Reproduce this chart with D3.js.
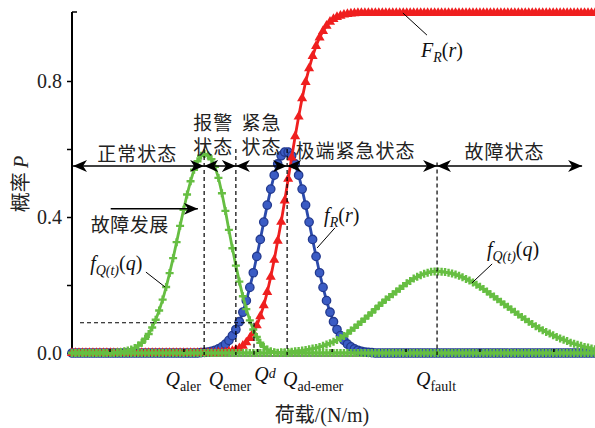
<!DOCTYPE html>
<html><head><meta charset="utf-8">
<script src="https://cdn.jsdelivr.net/npm/d3@7/dist/d3.min.js"></script>
<style>
html,body{margin:0;padding:0;background:#fff;}
svg{display:block;}
</style></head><body>
<svg id="c" width="595" height="428"></svg>
<script>
// ---------------- data ----------------
const load = [
0,1,2,3,4,5,6,7,8,9,
10,11,12,13,14,15,16,17,18,19,
20,21,22,23,24,25,26,27,28,29,
30,31,32,33,34,35,36,37,38,39,
40,41,42,43,44,45,46,47,48,49,
50,51,52,53,54,55,56,57,58,59,
60,61,62,63,64,65,66,67,68,69,
70,71,72,73,74,75,76,77,78,79,
80,81,82,83,84,85,86,87,88,89,
90,91,92,93,94,95,96,97,98,99,
100,101,102,103,104,105,106,107,108,109,
110,111,112,113,114,115,116,117,118,119,
120,121,122,123,124,125,126,127,128,129,
130,131,132,133,134,135,136,137,138,139,
140,141,142,143,144,145,146,147,148,149,
150];

// f_Q(t)(q) at the early (alert) stage
const fQ1 = [
0,0,0,0,0,0,0,0,0,0,
0,0,0.001,0.002,0.003,0.005,0.007,0.010,0.015,0.022,
0.030,0.042,0.056,0.075,0.098,0.125,0.157,0.194,0.235,0.279,
0.326,0.374,0.421,0.466,0.505,0.539,0.564,0.580,0.585,0.581,
0.570,0.548,0.515,0.470,0.418,0.362,0.308,0.257,0.210,0.167,
0.129,0.096,0.069,0.047,0.030,0.018,0.010,0.005,0.002,0,
0,0,0,0,0,0,0,0,0,0,
0,0,0,0,0,0,0,0,0,0,
0,0,0,0,0,0,0,0,0,0,
0,0,0,0,0,0,0,0,0,0,
0,0,0,0,0,0,0,0,0,0,
0,0,0,0,0,0,0,0,0,0,
0,0,0,0,0,0,0,0,0,0,
0,0,0,0,0,0,0,0,0,0,
0,0,0,0,0,0,0,0,0,0,
0];

// f_R(r)
const fR = [
0,0,0,0,0,0,0,0,0,0,
0,0,0,0,0,0,0,0,0,0,
0,0,0,0,0,0,0,0,0,0,
0,0,0,0,0,0,0,0.001,0.002,0.003,
0.005,0.008,0.012,0.018,0.026,0.037,0.051,0.069,0.092,0.120,
0.154,0.193,0.236,0.284,0.334,0.385,0.435,0.482,0.523,0.556,
0.580,0.591,0.591,0.580,0.556,0.523,0.482,0.435,0.385,0.334,
0.284,0.236,0.193,0.154,0.120,0.092,0.069,0.051,0.037,0.026,
0.018,0.012,0.008,0.005,0.003,0.002,0.001,0,0,0,
0,0,0,0,0,0,0,0,0,0,
0,0,0,0,0,0,0,0,0,0,
0,0,0,0,0,0,0,0,0,0,
0,0,0,0,0,0,0,0,0,0,
0,0,0,0,0,0,0,0,0,0,
0,0,0,0,0,0,0,0,0,0,
0];

// F_R(r)
const FR = [
0,0,0,0,0,0,0,0,0,0,
0,0,0,0,0,0,0,0,0,0,
0,0,0,0,0,0,0,0,0,0,
0,0,0,0,0,0,0,0,0,0,
0,0,0.001,0.001,0.002,0.004,0.006,0.009,0.014,0.021,
0.031,0.044,0.059,0.081,0.108,0.140,0.179,0.224,0.274,0.330,
0.386,0.448,0.512,0.575,0.637,0.695,0.749,0.797,0.837,0.873,
0.903,0.928,0.947,0.962,0.974,0.982,0.988,0.992,0.995,0.997,
0.998,0.999,1,1,1,1,1,1,1,1,
1,1,1,1,1,1,1,1,1,1,
1,1,1,1,1,1,1,1,1,1,
1,1,1,1,1,1,1,1,1,1,
1,1,1,1,1,1,1,1,1,1,
1,1,1,1,1,1,1,1,1,1,
1,1,1,1,1,1,1,1,1,1,
1];

// f_Q(t)(q) at the fault stage
const fQ2 = [
0,0,0,0,0,0,0,0,0,0,
0,0,0,0,0,0,0,0,0,0,
0,0,0,0,0,0,0,0,0,0,
0,0,0,0,0,0,0,0,0,0,
0,0,0,0,0,0,0,0,0,0,
0,0,0,0,0,0,0,0.001,0.001,0.001,
0.002,0.002,0.003,0.004,0.005,0.006,0.007,0.009,0.011,0.013,
0.015,0.018,0.021,0.025,0.029,0.033,0.038,0.044,0.050,0.057,
0.066,0.074,0.083,0.092,0.101,0.110,0.119,0.129,0.139,0.148,
0.157,0.165,0.173,0.181,0.189,0.197,0.205,0.212,0.219,0.224,
0.229,0.233,0.236,0.239,0.240,0.240,0.239,0.238,0.236,0.234,
0.231,0.227,0.223,0.218,0.213,0.207,0.201,0.195,0.188,0.181,
0.173,0.166,0.158,0.151,0.143,0.136,0.128,0.121,0.113,0.106,
0.099,0.092,0.085,0.079,0.073,0.067,0.062,0.057,0.052,0.047,
0.043,0.039,0.035,0.030,0.027,0.024,0.021,0.018,0.016,0.013,
0.011];

const yTickValues = [0, 0.2, 0.4, 0.6, 0.8];
const yTickLabels = ["0.0", "", "0.4", "", "0.8"];
const xTickValues = [10.9, 32.1, 53.3, 74.6, 95.8, 117.0, 138.2];

// threshold loads
const thresholdNames = ["aler", "emer", "d", "ad-emer", "fault"];
const thresholdLoads = [37.9, 47.0, 52.2, 61.7, 104.7];
const alarmLevel = 0.089;        // horizontal dashed level
const stateArrowLevel = 0.55;    // level of the state arrows

// state bands
const stateNames = [["正常状态"], ["报警", "状态"], ["紧急", "状态"], ["极端紧急状态"], ["故障状态"]];
const stateFrom = [0.3, 37.9, 47.0, 61.7, 104.7];
const stateTo   = [37.9, 47.0, 61.7, 104.7, 146.3];

// ---------------- layout ----------------
const svg = d3.select("#c");
const x = d3.scaleLinear().domain([0, 150]).range([72, 595]);
const y = d3.scaleLinear().domain([0, 1]).range([353, 13]);

const GREEN = "#66be42", BLUE = "#2b4aab", RED = "#ef1f1f";
const SERIF = "'Liberation Serif','Times New Roman',serif";
const CJK = "'Noto Sans CJK SC','Noto Sans',sans-serif";

const defs = svg.append("defs");
defs.append("marker").attr("id", "arr")
  .attr("viewBox", "0 0 14 12").attr("refX", 14).attr("refY", 6)
  .attr("markerWidth", 14).attr("markerHeight", 12)
  .attr("markerUnits", "userSpaceOnUse").attr("orient", "auto-start-reverse")
  .append("path").attr("d", "M0,0L14,6L0,12L4,6Z").attr("fill", "#000");

// x axis baseline + y axis
svg.append("line").attr("x1", x(0)).attr("x2", x(150)).attr("y1", y(0) + 3).attr("y2", y(0) + 3)
  .attr("stroke", "#000").attr("stroke-width", 1);

const yAxis = d3.axisLeft(y).tickValues(yTickValues)
  .tickFormat((d, i) => yTickLabels[i]).tickSizeInner(5).tickSizeOuter(0).tickPadding(5);
const gy = svg.append("g").attr("transform", `translate(${x(0)},0)`).call(yAxis);
gy.select(".domain").remove();
gy.selectAll(".tick line").attr("stroke", "#000").attr("stroke-width", 1.5);
gy.selectAll(".tick text").attr("font-family", SERIF).attr("font-size", 20).attr("fill", "#222");
svg.append("line").attr("x1", x(0)).attr("x2", x(0)).attr("y1", y(1) - 1).attr("y2", y(0) + 3)
  .attr("stroke", "#000").attr("stroke-width", 2);
svg.append("line").attr("x1", x(0)).attr("x2", x(0) + 5).attr("y1", y(1) - 1).attr("y2", y(1) - 1)
  .attr("stroke", "#000").attr("stroke-width", 1.5);

// ---------------- curves ----------------
const line = d3.line().x((d, i) => x(load[i])).y(d => y(d));
const seriesList = [
  {vals: fR, color: BLUE, mk: "circle"},
  {vals: FR, color: RED, mk: "tri"},
  {vals: fQ1, color: GREEN, mk: "plus"},
  {vals: fQ2, color: GREEN, mk: "plus"}
];
const tri = d3.symbol().type(d3.symbolTriangle).size(44)();
seriesList.forEach(s => {
  const g = svg.append("g");
  g.append("path").attr("d", line(s.vals)).attr("fill", "none")
    .attr("stroke", s.color).attr("stroke-width", 2.8);
  const pts = g.selectAll("g.m").data(s.vals).join("g")
    .attr("transform", (d, i) => `translate(${x(load[i])},${y(d)})`);
  if (s.mk === "circle") {
    pts.append("circle").attr("r", 4.2).attr("fill", "#3b5cc4").attr("stroke", "#22398f").attr("stroke-width", 1.3);
  } else if (s.mk === "tri") {
    pts.append("path").attr("d", tri).attr("fill", s.color);
  } else {
    pts.append("path").attr("d", "M-4,0H4M0,-4V4").attr("stroke", s.color).attr("stroke-width", 2.4);
  }
});

// x ticks (tiny)
svg.selectAll("line.xt").data(xTickValues).join("line")
  .attr("x1", d => x(d)).attr("x2", d => x(d)).attr("y1", y(0) - 4).attr("y2", y(0) - 1)
  .attr("stroke", "#000").attr("stroke-width", 1.5);

// ---------------- dashed guides ----------------
const dash = {stroke: "#000", "stroke-width": 1.2, "stroke-dasharray": "4,3"};
const topLevels = [0.6, 0.6, alarmLevel, 0.6, 0.56];
thresholdLoads.forEach((q, i) => {
  const l = svg.append("line").attr("x1", x(q)).attr("x2", x(q)).attr("y1", y(topLevels[i])).attr("y2", y(0) + 2);
  Object.entries(dash).forEach(([k, v]) => l.attr(k, v));
});
{
  const l = svg.append("line").attr("x1", x(2.3)).attr("x2", x(thresholdLoads[2]))
    .attr("y1", y(alarmLevel)).attr("y2", y(alarmLevel));
  Object.entries(dash).forEach(([k, v]) => l.attr(k, v));
}

// ---------------- state arrows & labels ----------------
stateFrom.forEach((f, i) => {
  svg.append("line").attr("x1", x(f)).attr("x2", x(stateTo[i]))
    .attr("y1", y(stateArrowLevel)).attr("y2", y(stateArrowLevel))
    .attr("stroke", "#000").attr("stroke-width", 1.5)
    .attr("marker-start", "url(#arr)").attr("marker-end", "url(#arr)");
});
const stateLabelQ = [18.6, 40.4, 54.2, 81.2, 123.9];
const stateLabelP = [[0.591], [0.682, 0.609], [0.682, 0.609], [0.6], [0.597]];
stateNames.forEach((lines, i) => {
  lines.forEach((t, j) => {
    svg.append("text").attr("x", x(stateLabelQ[i]) + 0.5).attr("y", y(stateLabelP[i][j]))
      .attr("text-anchor", "middle").attr("dominant-baseline", "central")
      .attr("font-family", CJK).attr("font-size", 19).attr("letter-spacing", 1).attr("fill", "#222")
      .text(t);
  });
});

// 故障发展 arrow
svg.append("line").attr("x1", x(11.1)).attr("x2", x(36.1)).attr("y1", y(0.424)).attr("y2", y(0.424))
  .attr("stroke", "#000").attr("stroke-width", 1.5).attr("marker-end", "url(#arr)");
svg.append("text").attr("x", x(16.6)).attr("y", y(0.382)).attr("text-anchor", "middle")
  .attr("dominant-baseline", "central").attr("font-family", CJK).attr("font-size", 19)
  .attr("letter-spacing", 0.5).attr("fill", "#222").text("故障发展");

// ---------------- math labels ----------------
function mathText(px, py, parts, anchor, size) {
  size = size || 20;
  const t = svg.append("text").attr("x", px).attr("y", py).attr("text-anchor", anchor || "start")
    .attr("font-family", SERIF).attr("font-size", size).attr("fill", "#111");
  let shift = 0;
  parts.forEach(p => {
    const ts = t.append("tspan").text(p.t);
    if (p.it) ts.attr("font-style", "italic");
    const want = p.sub ? (p.up ? -3 : 5) : 0;
    const dy = want - shift;
    if (dy !== 0) ts.attr("dy", dy);
    shift = want;
    if (p.sub) ts.attr("font-size", size * 0.7);
  });
  return t;
}
const FRparts = [{t: "F", it: 1}, {t: "R", it: 1, sub: 1}, {t: "("}, {t: "r", it: 1}, {t: ")"}];
const fRparts = [{t: "f", it: 1}, {t: "R", it: 1, sub: 1}, {t: "("}, {t: "r", it: 1}, {t: ")"}];
const fQparts = [{t: "f", it: 1}, {t: "Q(t)", it: 1, sub: 1}, {t: "("}, {t: "q", it: 1}, {t: ")"}];

mathText(x(100.1), y(0.871), FRparts);
mathText(x(72.3), y(0.385), fRparts);
mathText(x(119.0), y(0.285), fQparts);
mathText(x(5.2), y(0.244), fQparts);

// leader lines
const leaders = [
  [[94.9, 1.0], [101.8, 0.935]],
  [[75.4, 0.368], [70.3, 0.309]],
  [[120.5, 0.262], [114.7, 0.206]],
  [[21.2, 0.238], [26.7, 0.194]]
];
leaders.forEach(([a, b]) => {
  svg.append("line").attr("x1", x(a[0])).attr("y1", y(a[1])).attr("x2", x(b[0])).attr("y2", y(b[1]))
    .attr("stroke", "#000").attr("stroke-width", 1);
});

// threshold labels under the axis
const thresholdLabelDx = [-21, -6, 11, 26, -1];
const thresholdLabelY = [386, 386, 381, 386, 386];
thresholdNames.forEach((n, i) => {
  const parts = n === "d"
    ? [{t: "Q", it: 1}, {t: "d", it: 1, sub: 1, up: 1}]
    : [{t: "Q", it: 1}, {t: n, sub: 1}];
  mathText(x(thresholdLoads[i]) + thresholdLabelDx[i], thresholdLabelY[i], parts, "middle");
});

// axis titles
const xt = svg.append("text").attr("x", 322).attr("y", 422).attr("text-anchor", "middle")
  .attr("font-size", 20).attr("fill", "#222");
xt.append("tspan").attr("font-family", CJK).text("荷载");
xt.append("tspan").attr("font-family", SERIF).text("/(N/m)");

const yt = svg.append("text").attr("transform", "translate(28,184) rotate(-90)")
  .attr("text-anchor", "middle").attr("font-size", 20).attr("fill", "#222");
yt.append("tspan").attr("font-family", CJK).text("概率 ");
yt.append("tspan").attr("font-family", SERIF).attr("font-style", "italic").text("P");
</script>
</body></html>
